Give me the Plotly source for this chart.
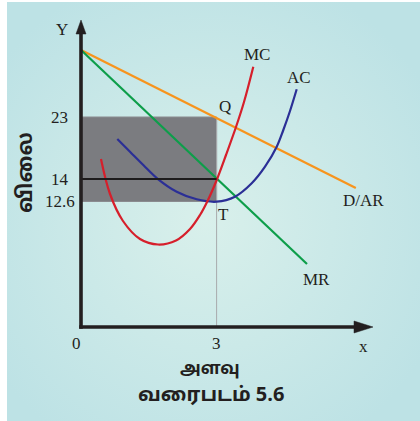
import base64
import plotly.graph_objects as go

# ---- data (diagram units: quantity, price) ----
dar_q = [0.0, 6.08]
dar_p = [27.7, 13.9]
mr_q = [0.0, 5.0]
mr_p = [27.7, 6.3]
mc_q = [0.442, 0.642, 0.929, 1.305, 1.704, 2.102, 2.412, 2.633, 2.810, 3.002, 3.208, 3.429, 3.606, 3.812]
mc_p = [16.8, 13.3, 10.6, 8.8, 8.25, 8.65, 9.8, 11.2, 12.7, 14.7, 17.2, 20.0, 22.5, 26.03]
ac_q = [0.803, 1.084, 1.378, 1.710, 2.117, 2.560, 3.002, 3.407, 3.777, 4.071, 4.330, 4.476, 4.624, 4.772]
ac_p = [18.80, 17.53, 16.20, 14.77, 13.53, 12.77, 12.53, 13.03, 14.37, 16.03, 18.03, 19.70, 21.6, 23.77]
price_ticks = [21.0, 14.8, 12.55]
price_labels = ["23", "14", "12.6"]
qty_ticks = [0, 3]
qty_labels = ["0", "3"]
eq_q = 3
ar_level, mc_level, ac_level = 21.0, 14.8, 12.55

W, H = 420, 421
X0, XS = 81.0, 45.2      # pixel of q=0, pixels per unit
Y0, YS = 327.0, 10.0     # pixel of p=0, pixels per unit
xr = [-X0 / XS, (W - X0) / XS]
yr = [(Y0 - H) / YS, Y0 / YS]

def dx(px):
    return (px - X0) / XS

def dy(py):
    return (Y0 - py) / YS

fig = go.Figure()

serif = "Liberation Serif, Times New Roman, serif"
lw = 2.2
fig.add_trace(go.Scatter(x=dar_q, y=dar_p, mode="lines", line=dict(color="#f7941d", width=lw), hoverinfo="skip"))
fig.add_trace(go.Scatter(x=mr_q, y=mr_p, mode="lines", line=dict(color="#0d9e4a", width=lw), hoverinfo="skip"))
fig.add_trace(go.Scatter(x=ac_q, y=ac_p, mode="lines", line=dict(color="#2b2f96", width=lw, shape="spline", smoothing=1.0), hoverinfo="skip"))
fig.add_trace(go.Scatter(x=mc_q, y=mc_p, mode="lines", line=dict(color="#d61f2b", width=lw, shape="spline", smoothing=1.0), hoverinfo="skip"))

shapes = []
# profit rectangle
shapes.append(dict(type="rect", xref="x", yref="y", x0=0, x1=eq_q, y0=ac_level, y1=ar_level,
                   fillcolor="#7b7c80", line=dict(color="#8a8b8f", width=1), layer="below"))
# vertical guide at q*
shapes.append(dict(type="line", xref="x", yref="y", x0=eq_q, x1=eq_q, y0=0, y1=ar_level,
                   line=dict(color="#a8aaad", width=1), layer="below"))
# MR=MC horizontal
shapes.append(dict(type="line", xref="x", yref="y", x0=0, x1=eq_q, y0=mc_level, y1=mc_level,
                   line=dict(color="#1e1c1d", width=2), layer="above"))
# axes
axc = "#231f20"
shapes.append(dict(type="line", xref="x", yref="y", x0=0, x1=0, y0=-0.17, y1=dy(32),
                   line=dict(color=axc, width=3.6)))
shapes.append(dict(type="line", xref="x", yref="y", x0=-0.04, x1=dx(358), y0=0, y1=0,
                   line=dict(color=axc, width=3.6)))
shapes.append(dict(type="path", xref="x", yref="y",
                   path=f"M {dx(76)},{dy(34)} L {dx(81)},{dy(20)} L {dx(86)},{dy(34)} Z",
                   fillcolor=axc, line=dict(color=axc, width=0.5)))
shapes.append(dict(type="path", xref="x", yref="y",
                   path=f"M {dx(354)},{dy(321)} L {dx(373)},{dy(327)} L {dx(354)},{dy(333)} Z",
                   fillcolor=axc, line=dict(color=axc, width=0.5)))

# background gradient (SVG)
svg = (
    '<svg xmlns="http://www.w3.org/2000/svg" width="413" height="419">'
    '<defs><radialGradient id="g" cx="0.48" cy="0.52" r="0.62">'
    '<stop offset="0" stop-color="#d9f0eb"/>'
    '<stop offset="1" stop-color="#bde2e5"/>'
    '</radialGradient></defs>'
    '<rect width="413" height="419" fill="url(#g)"/></svg>'
)
src = "data:image/svg+xml;base64," + base64.b64encode(svg.encode()).decode()
images = [dict(source=src, xref="paper", yref="paper", x=7 / W, y=1 - 2 / H,
               sizex=1 - 7 / W, sizey=1 - 2 / H, xanchor="left", yanchor="top",
               sizing="stretch", layer="below")]

ann = []

def lab(text, px, py, size=17, font=serif, color="#231f20", **kw):
    ann.append(dict(text=text, x=px / W, y=1 - py / H, xref="paper", yref="paper",
                    showarrow=False, font=dict(family=font, size=size, color=color),
                    xanchor="center", yanchor="middle", **kw))

for v, t in zip(price_ticks, price_labels):
    ann.append(dict(text=t, x=dx(59.5), y=v, xref="x", yref="y", showarrow=False,
                    font=dict(family=serif, size=17, color="#231f20"),
                    xanchor="center", yanchor="middle"))
for v, t in zip(qty_ticks, qty_labels):
    ann.append(dict(text=t, x=v - (0.11 if v == 0 else 0), y=dy(343), xref="x", yref="y", showarrow=False,
                    font=dict(family=serif, size=17, color="#231f20"),
                    xanchor="center", yanchor="middle"))

lab("Y", 62, 29)
lab("x", 363, 346)
lab("MC", 257, 55)
lab("AC", 299, 78)
lab("Q", 225, 107)
lab("D/AR", 363, 200)
lab("T", 223, 214)
lab("MR", 316, 279)

tamil = "Noto Sans Tamil, Lohit Tamil, Noto Sans, sans-serif"
lab("<b>விலை</b>", 27, 172, size=21, font=tamil, textangle=-90)
lab("<b>அளவு</b>", 210, 369, size=17, font=tamil)
lab("<b>வரைபடம் 5.6</b>", 211, 396, size=20, font=tamil)

fig.update_layout(
    width=W, height=H, margin=dict(l=0, r=0, t=0, b=0),
    paper_bgcolor="white", plot_bgcolor="rgba(0,0,0,0)",
    xaxis=dict(range=xr, visible=False, fixedrange=True),
    yaxis=dict(range=yr, visible=False, fixedrange=True),
    showlegend=False, shapes=shapes, annotations=ann, images=images,
)

fig.write_html("out.html", config={"displayModeBar": False},
               post_script="document.body.style.margin='0';document.body.style.overflow='hidden';")
